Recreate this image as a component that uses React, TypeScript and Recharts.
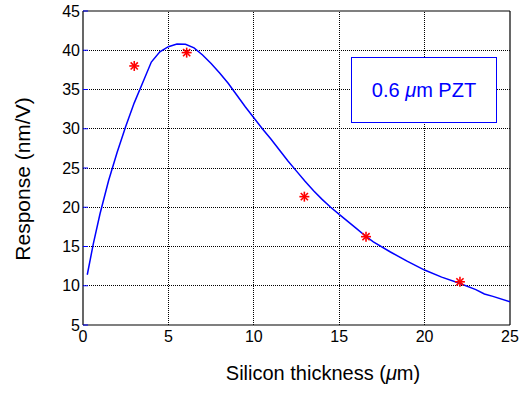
import React from "react";
import {
  ComposedChart,
  Line,
  Scatter,
  XAxis,
  YAxis,
  ReferenceLine,
} from "recharts";

const curveX = [0.25, 0.6, 1.0, 1.5, 2.0, 2.5, 3.0, 3.5, 4.0, 4.5, 5.0, 5.5, 6.0, 6.5, 7.0, 7.5, 8.0, 8.5, 9.0, 9.5, 10.0, 10.5, 11.0, 11.5, 12.0, 12.5, 13.0, 13.5, 14.0, 14.5, 15.0, 15.5, 16.0, 16.5, 17.0, 18.0, 19.0, 20.0, 21.0, 22.0, 23.0, 23.5, 24.0, 25.0];
const curveY = [11.4, 15.3, 19.2, 23.4, 27.0, 30.3, 33.3, 35.9, 38.5, 39.8, 40.45, 40.8, 40.75, 40.3, 39.4, 38.3, 37.1, 35.8, 34.3, 32.8, 31.4, 30.0, 28.7, 27.3, 25.9, 24.6, 23.3, 22.1, 21.0, 20.0, 19.1, 18.2, 17.3, 16.4, 15.6, 14.3, 13.1, 12.0, 11.1, 10.35, 9.5, 8.95, 8.65, 7.95];

const measX = [3, 6.07, 12.96, 16.57, 22.07];
const measY = [38.0, 39.7, 21.35, 16.25, 10.5];

const xTicks = [0, 5, 10, 15, 20, 25];
const yTicks = [5, 10, 15, 20, 25, 30, 35, 40, 45];

const curveData = curveX.map((x, i) => ({ x, y: curveY[i] }));
const measData = measX.map((x, i) => ({ x, y: measY[i] }));

const FONT = '"Liberation Sans", Arial, Helvetica, sans-serif';

const Asterisk = (props: any) => {
  const { cx, cy } = props;
  const r = 5;
  const d = r * 0.72;
  return (
    <g stroke="#ff0000" strokeWidth={1.6}>
      <line x1={cx - r} y1={cy} x2={cx + r} y2={cy} />
      <line x1={cx} y1={cy - r} x2={cx} y2={cy + r} />
      <line x1={cx - d} y1={cy - d} x2={cx + d} y2={cy + d} />
      <line x1={cx - d} y1={cy + d} x2={cx + d} y2={cy - d} />
    </g>
  );
};

const LeftTick = (props: any) => {
  const { x, y, payload } = props;
  return (
    <g>
      <line x1={x + 3} x2={x + 8} y1={y} y2={y} stroke="#0000ff" />
      <text x={x} y={y} dy="0.355em" textAnchor="end" fontSize={16} fontFamily={FONT} fill="#000">
        {payload.value}
      </text>
    </g>
  );
};

const RightTick = (props: any) => {
  const { x, y } = props;
  return <line x1={x - 5} x2={x} y1={y} y2={y} stroke="#0000ff" />;
};

const BottomTick = (props: any) => {
  const { x, y, payload } = props;
  return (
    <text x={x} y={y} dy="0.71em" textAnchor="middle" fontSize={16} fontFamily={FONT} fill="#000">
      {payload.value}
    </text>
  );
};

const gridStyle = {
  stroke: "#000",
  strokeWidth: 1,
  strokeDasharray: "1 1",
  shapeRendering: "crispEdges",
};

export default function App() {
  return (
    <div style={{ position: "relative", width: 531, height: 396, background: "#fff" }}>
      <style>{`body{margin:0}`}</style>
      <ComposedChart
        width={531}
        height={396}
        margin={{ top: 11, right: 21, left: 0, bottom: 0 }}
      >
        <XAxis
          type="number"
          dataKey="x"
          domain={[0, 25]}
          ticks={xTicks}
          allowDataOverflow
          height={71}
          tickSize={0}
          tickMargin={6}
          tick={<BottomTick />}
          axisLine={{ stroke: "#000", strokeWidth: 1.2 }}
          tickLine={false}
        />
        <YAxis
          type="number"
          dataKey="y"
          domain={[5, 45]}
          ticks={yTicks}
          allowDataOverflow
          width={83}
          tickSize={0}
          tickMargin={3}
          tick={<LeftTick />}
          axisLine={{ stroke: "#000", strokeWidth: 1.2 }}
          tickLine={false}
        />
        <YAxis
          yAxisId="r"
          orientation="right"
          type="number"
          domain={[5, 45]}
          ticks={yTicks}
          allowDataOverflow
          width={0}
          tickSize={0}
          tickMargin={0}
          tick={<RightTick />}
          axisLine={false}
          tickLine={false}
        />
        {yTicks.slice(1, -1).map((v) => (
          <ReferenceLine key={"gy" + v} y={v} {...gridStyle} />
        ))}
        {xTicks.slice(1, -1).map((v) => (
          <ReferenceLine key={"gx" + v} x={v} {...gridStyle} />
        ))}
        <ReferenceLine y={45} stroke="#000" strokeWidth={1.2} />
        <ReferenceLine x={25} stroke="#000" strokeWidth={1.2} />
        <Line
          data={curveData}
          dataKey="y"
          type="linear"
          stroke="#0000ff"
          strokeWidth={1.5}
          dot={false}
          isAnimationActive={false}
        />
        <Scatter
          data={measData}
          dataKey="y"
          shape={<Asterisk />}
          isAnimationActive={false}
        />
        <text
          x={323}
          y={380}
          textAnchor="middle"
          fontSize={20}
          fontFamily={FONT}
          fill="#000"
        >
          Silicon thickness (<tspan fontStyle="italic">μ</tspan>m)
        </text>
        <text
          x={0}
          y={0}
          transform="translate(30,179) rotate(-90)"
          textAnchor="middle"
          fontSize={21}
          fontFamily={FONT}
          fill="#000"
        >
          Response (nm/V)
        </text>
      </ComposedChart>
      <div
        style={{
          position: "absolute",
          left: 351,
          top: 57,
          width: 146,
          height: 66,
          boxSizing: "border-box",
          border: "1.5px solid #0000ff",
          background: "#fff",
          display: "flex",
          alignItems: "center",
          justifyContent: "center",
          color: "#0000ff",
          fontSize: 20,
          fontFamily: FONT,
        }}
      >
        0.6&nbsp;<i>μ</i>m PZT
      </div>
    </div>
  );
}
